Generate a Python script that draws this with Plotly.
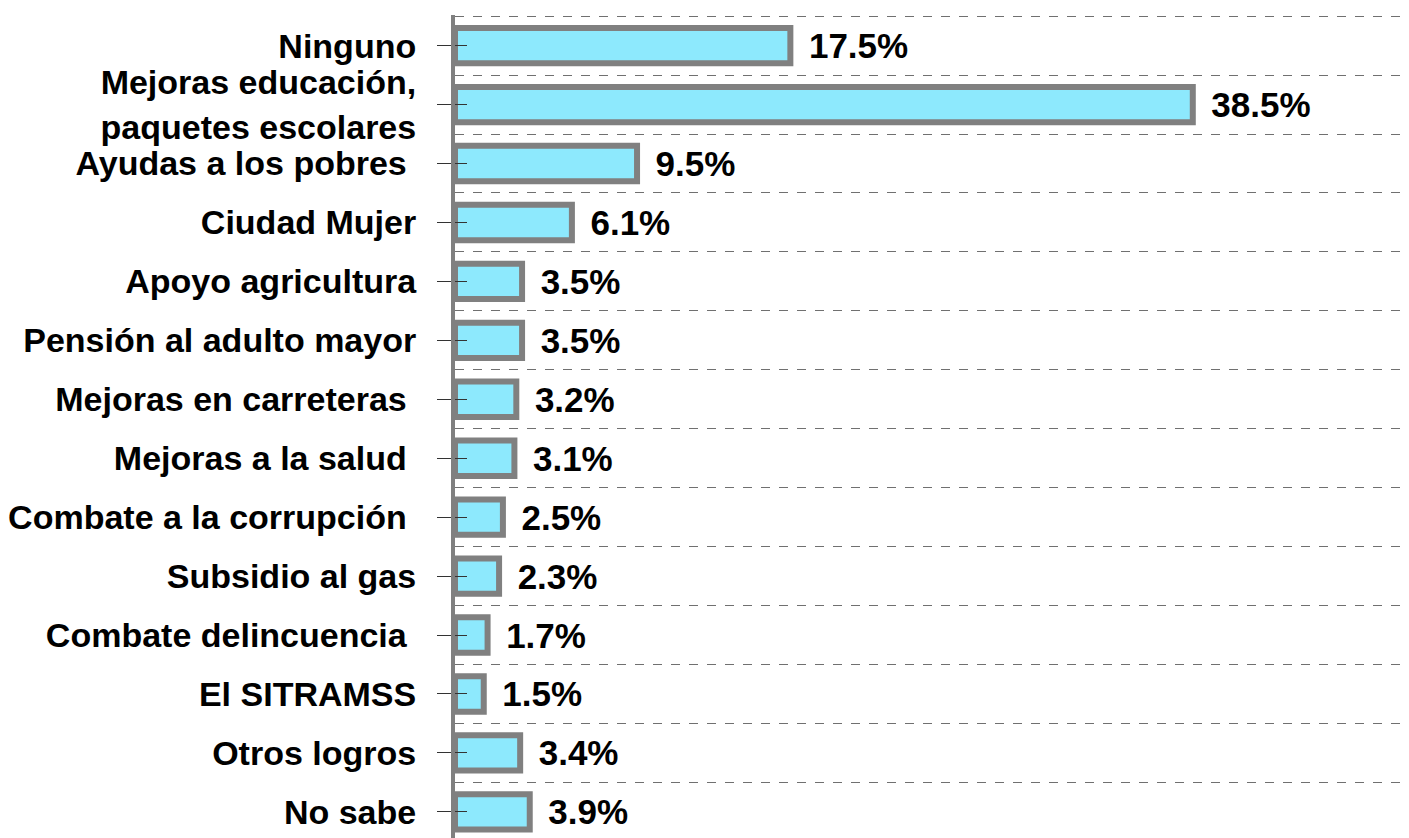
import plotly.graph_objects as go

# Logros del gobierno (porcentaje de menciones)
categorias = [
    "Ninguno",
    "Mejoras educación,<br>paquetes escolares",
    "Ayudas a los pobres\u00a0",
    "Ciudad Mujer",
    "Apoyo agricultura",
    "Pensión al adulto mayor",
    "Mejoras en carreteras\u00a0",
    "Mejoras a la salud\u00a0",
    "Combate a la corrupción\u00a0",
    "Subsidio al gas",
    "Combate delincuencia\u00a0",
    "El SITRAMSS",
    "Otros logros",
    "No sabe",
]
porcentajes = [17.5, 38.5, 9.5, 6.1, 3.5, 3.5, 3.2, 3.1, 2.5, 2.3, 1.7, 1.5, 3.4, 3.9]

BAR_COLOR = "#8DE9FD"
LINE_COLOR = "#808080"
FONT = "Liberation Sans, Arial, sans-serif"

posiciones = list(range(len(categorias)))
limites = [p - 0.5 for p in posiciones] + [len(categorias) - 0.5]

fig = go.Figure()
fig.add_trace(
    go.Bar(
        x=porcentajes,
        y=posiciones,
        orientation="h",
        width=0.6,
        marker=dict(color=BAR_COLOR, line=dict(color=LINE_COLOR, width=6)),
        texttemplate="\u00a0\u2006%{x:.1f}%",
        textposition="outside",
        constraintext="none",
        textfont=dict(family=FONT, size=35, color="black", weight="bold"),
        cliponaxis=False,
        showlegend=False,
    )
)
# traza vacía para las marcas de tick que cruzan el eje
fig.add_trace(
    go.Scatter(x=[None], y=[None], yaxis="y2", showlegend=False, hoverinfo="skip")
)

y_rango = [13.58, -0.52]

fig.update_layout(
    width=1409,
    height=838,
    paper_bgcolor="white",
    plot_bgcolor="white",
    margin=dict(l=445, r=0, t=7, b=0),
    xaxis=dict(
        range=[0, 50.2],
        showgrid=False,
        zeroline=False,
        showticklabels=False,
        showline=False,
        ticks="",
    ),
    yaxis=dict(
        range=y_rango,
        tickvals=posiciones,
        ticktext=categorias,
        ticks="outside",
        ticklen=14,
        tickwidth=1,
        tickcolor="#333333",
        ticklabelstandoff=14,
        tickfont=dict(family=FONT, size=34, color="black", weight="bold"),
        showline=True,
        linecolor=LINE_COLOR,
        linewidth=4,
        showgrid=False,
        zeroline=False,
        minor=dict(
            tickvals=limites,
            showgrid=True,
            griddash="dash",
            gridcolor="#707070",
            gridwidth=1,
            ticks="",
        ),
    ),
    yaxis2=dict(
        overlaying="y",
        side="left",
        range=y_rango,
        tickvals=posiciones,
        ticks="inside",
        ticklen=12,
        tickwidth=1,
        tickcolor="#333333",
        showticklabels=False,
        showgrid=False,
        zeroline=False,
        showline=False,
    ),
)

fig.write_html("out.html")
